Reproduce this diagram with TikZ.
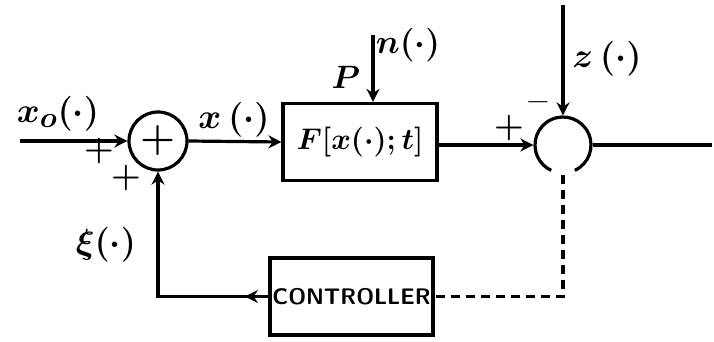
\documentclass[tikz,border=0pt]{standalone}
\usetikzlibrary{arrows.meta,decorations.markings}
\newcommand{\hwlabel}[2]{\scalebox{#1}{\fontsize{24.88}{28}\selectfont\boldmath$#2$}}
\begin{document}
\begin{tikzpicture}[x=1pt,y=1pt,line width=3.2pt,
  arr/.style={-{Stealth[length=13pt,width=13pt]}},
  sumc/.style={circle,minimum size=58pt,inner sep=0pt},
  blk/.style={draw,rectangle,inner sep=0pt},
  lab/.style={inner sep=0pt},
  sgn/.style={font=\fontsize{34}{36}\selectfont\bfseries}]
\useasboundingbox (0,0) rectangle (714,341);
% nodes
\node[sumc,draw,font=\fontsize{40}{42}\selectfont\bfseries] (s1) at (158,200) {+};
\node[blk,minimum width=154pt,minimum height=77pt] (F) at (360,199) {\hwlabel{1.2}{F[x(\cdot);t]}};
\node[sumc,minimum size=56pt] (s2) at (563,196) {};
\draw ([shift={(-65:28)}]s2.center) arc[start angle=-65,end angle=245,radius=28];
\node[blk,minimum width=163pt,minimum height=77pt,font=\fontsize{22.5}{25}\selectfont\sffamily\bfseries] (ctrl) at (351.5,44.5) {CONTROLLER};
% free ends
\coordinate (xin) at (20,200);
\coordinate (ntop) at (373,306);
\coordinate (ztop) at (563,336);
\coordinate (yout) at (712,196);
% connectors
\draw[arr] (xin) -- (s1.west);
\draw[arr] (s1.east) -- (F.west);
\draw[arr] (ntop) -- (ntop |- F.north);
\draw[arr] (s2.west -| F.east) -- (s2.west);
\draw[arr] (ztop) -- (s2.north);
\draw (s2.east) -- (yout);
\draw[dashed,dash pattern=on 9pt off 6pt] (s2.south) |- (ctrl.east);
\draw[arr,postaction={decorate},decoration={markings,mark=at position 0.1 with {\arrow{Stealth[length=13pt,width=13pt]}}}] (ctrl.west) -| (s1.south);
% labels
\node[lab] (lxo) at (58,227) {\hwlabel{1.4}{x_o(\cdot)}};
\node[lab] (lx) at (234,221) {\hwlabel{1.4}{x\,(\cdot)}};
\node[lab] (ln) at (408,296) {\hwlabel{1.35}{n(\cdot)}};
\node[lab] (lP) at (346,264) {\hwlabel{1.3}{P}};
\node[lab] (lz) at (607,282) {\hwlabel{1.4}{z\,(\cdot)}};
\node[lab] (lxi) at (106,96) {\hwlabel{1.4}{\xi(\cdot)}};
\node[sgn] (p1) at (99,190) {+};
\node[sgn] (p2) at (126,163) {+};
\node[sgn] (p3) at (509,213) {+};
\node[sgn] (m1) at (538,234) {--};
\end{tikzpicture}
\end{document}
